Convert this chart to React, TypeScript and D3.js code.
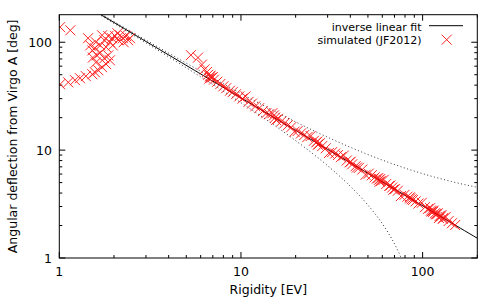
import React from 'react';
import * as d3 from 'd3';

// low-rigidity cluster (simulated, JF2012)
const clusterRigidity = [1.01, 1.15, 1.01, 1.12, 1.22, 1.3, 1.4, 1.52, 1.57, 1.64, 1.72, 1.81, 1.9, 1.86, 1.77, 1.59, 1.53, 1.68, 1.57, 1.48, 1.44, 1.59, 1.68, 1.77, 1.86, 1.95, 1.81, 1.9, 2.03, 2.11, 2.16, 2.24, 2.33, 2.45, 2.39, 2.09, 1.97, 1.72, 1.52, 1.61, 2.26];
const clusterDeflection = [138, 129, 40.8, 42.5, 44.5, 46.4, 48.5, 50.5, 52.7, 55, 58.7, 62.7, 68, 75.6, 71, 65, 72, 80, 88, 93.5, 109, 100, 93.5, 104.5, 114, 109, 90, 100, 114, 104.5, 116, 109, 114, 109, 104.5, 121, 93.5, 116, 84, 75.6, 100];

// high-rigidity band (simulated, JF2012)
const bandRigidity = [5.3, 5.8, 6.1, 6.3, 6.5, 6.6, 6.75, 6.9, 7.1, 7.4, 7.7, 8.0, 8.3, 8.7, 9.0, 9.4, 9.8, 10.2, 10.6, 11.0, 11.5, 12.0, 12.6, 13.2, 13.8, 14.3, 14.9, 15.4, 16.0, 16.7, 17.4, 18.1, 18.9, 19.7, 20.5, 21.4, 22.3, 23.2, 24.2, 25.2, 26.0, 26.8, 28.0, 29.3, 30.5, 31.8, 33.0, 34.2, 35.5, 36.8, 38.2, 39.6, 41.0, 42.8, 44.6, 46.5, 48.5, 50.5, 52.5, 54.5, 56.0, 57.5, 59.0, 61.0, 63.0, 65.5, 68.0, 70.5, 73.0, 76.0, 79.5, 82.5, 85.5, 88.5, 91.5, 95.0, 99.0, 103, 107, 111, 114, 117, 120, 123, 126, 130, 134, 139, 145, 151,
  6.7, 6.8, 7.0, 15.2, 15.6, 26.3, 26.5, 27.2, 40.2, 43.5, 57, 58, 58.5, 66.5, 69, 85, 87, 110, 112, 115, 118, 121, 124, 127, 129];
const bandDeflection = [76, 72, 62, 56, 53, 50, 48, 47, 45, 43, 41, 39, 37.5, 35.5, 34.5, 33, 31.5, 30, 31.5, 28, 27, 25.5, 24.5, 23, 22, 21.5, 22, 20, 19.5, 18.5, 17.8, 17, 16.3, 14.8, 15, 14.3, 13.8, 13.2, 13.5, 12.2, 11.8, 11.4, 10.9, 10.4, 9.4, 9.6, 9.3, 9.0, 8.6, 8.9, 8.0, 7.7, 7.4, 7.1, 6.85, 6.6, 5.9, 6.05, 5.85, 5.6, 5.45, 5.3, 5.15, 5.3, 4.85, 4.65, 4.5, 4.35, 4.2, 3.75, 3.85, 3.7, 3.57, 3.45, 3.35, 3.2, 3.25, 2.96, 2.85, 2.75, 2.67, 2.6, 2.54, 2.35, 2.42, 2.35, 2.4, 2.2, 2.1, 2.02,
  46, 49, 47.5, 21, 19, 12, 11.2, 11.6, 7.8, 6.9, 5.5, 5.1, 5.4, 4.7, 4.3, 3.65, 3.5, 2.9, 2.7, 2.75, 2.55, 2.6, 2.45, 2.5, 2.3];

const fitA = 305; // inverse linear fit: a / R
const bandC = 3; // dotted band: a / R +- c

const xTicks = [1, 10, 100];
const yTicks = [1, 10, 100];

const W = 498;
const H = 299;
const left = 59.3, right = 477.3, top = 14.7, bottom = 258;

const App = () => {
  const x = d3.scaleLog().domain([1, 200]).range([left, right]);
  const y = d3.scaleLog().domain([1, 180]).range([bottom, top]);

  const xMinor = d3.range(0, 3).flatMap((e) => d3.range(2, 10).map((m) => m * 10 ** e)).filter((v) => v <= 200);
  const yMinor = d3.range(0, 3).flatMap((e) => d3.range(2, 10).map((m) => m * 10 ** e)).filter((v) => v <= 180);

  const rs = d3.range(0, 241).map((i) => 10 ** (i / 100 * 2.4));
  const curve = (f: (r: number) => number) =>
    d3.line<number>()
      .defined((r) => f(r) > 0.5)
      .x((r) => x(r))
      .y((r) => y(Math.max(f(r), 0.5)))(rs) || '';

  const fitPath = curve((r) => fitA / r);
  const upperPath = curve((r) => fitA / r + bandC);
  const lowerPath = curve((r) => fitA / r - bandC);

  const points = [
    ...clusterRigidity.map((r, i) => [r, clusterDeflection[i]]),
    ...bandRigidity.map((r, i) => [r, bandDeflection[i]]),
  ];

  const cross = (cx: number, cy: number, s = 5) =>
    `M${cx - s},${cy - s}L${cx + s},${cy + s}M${cx - s},${cy + s}L${cx + s},${cy - s}`;

  const font = '"DejaVu Sans", sans-serif';

  return (
    <div style={{ position: 'fixed', left: 0, top: 0 }}>
      <svg width={W} height={H} style={{ display: 'block', background: '#fff' }}>
        <defs>
          <clipPath id="plot">
            <rect x={left} y={top} width={right - left} height={bottom - top} />
          </clipPath>
        </defs>

        {/* ticks, inward on all sides */}
        <g stroke="#000" strokeWidth={1}>
          {xTicks.map((t) => (
            <g key={'xt' + t}>
              <line x1={x(t)} x2={x(t)} y1={bottom} y2={bottom - 6} />
              <line x1={x(t)} x2={x(t)} y1={top} y2={top + 6} />
            </g>
          ))}
          {xMinor.map((t) => (
            <g key={'xm' + t}>
              <line x1={x(t)} x2={x(t)} y1={bottom} y2={bottom - 3} />
              <line x1={x(t)} x2={x(t)} y1={top} y2={top + 3} />
            </g>
          ))}
          {yTicks.map((t) => (
            <g key={'yt' + t}>
              <line x1={left} x2={left + 6} y1={y(t)} y2={y(t)} />
              <line x1={right} x2={right - 6} y1={y(t)} y2={y(t)} />
            </g>
          ))}
          {yMinor.map((t) => (
            <g key={'ym' + t}>
              <line x1={left} x2={left + 3} y1={y(t)} y2={y(t)} />
              <line x1={right} x2={right - 3} y1={y(t)} y2={y(t)} />
            </g>
          ))}
        </g>

        <g clipPath="url(#plot)" fill="none">
          <path d={upperPath} stroke="#333" strokeWidth={1} strokeDasharray="1 2.5" />
          <path d={lowerPath} stroke="#333" strokeWidth={1} strokeDasharray="1 2.5" />
          <path d={fitPath} stroke="#000" strokeWidth={1} />
          <g stroke="#ff0000" strokeWidth={1} opacity={0.85}>
            {points.map(([r, d], i) => (
              <path key={i} d={cross(x(r), y(d))} />
            ))}
          </g>
        </g>

        <rect x={left} y={top} width={right - left} height={bottom - top} fill="none" stroke="#000" strokeWidth={1} />

        <g fontFamily={font} fontSize={12.5} fill="#000">
          {xTicks.map((t) => (
            <text key={'xl' + t} x={x(t)} y={275.5} textAnchor="middle">{t}</text>
          ))}
          {yTicks.map((t) => (
            <text key={'yl' + t} x={52} y={y(t) + 4.5} textAnchor="end">{t}</text>
          ))}
          <text x={(left + right) / 2} y={294} textAnchor="middle">Rigidity [EV]</text>
          <text transform={`translate(16.5,${(top + bottom) / 2}) rotate(-90)`} textAnchor="middle">
            Angular deflection from Virgo A [deg]
          </text>
        </g>

        {/* legend */}
        <g fontFamily={font} fontSize={11} fill="#000">
          <text x={421.5} y={30.5} textAnchor="end">inverse linear fit</text>
          <text x={421.5} y={44} textAnchor="end">simulated (JF2012)</text>
          <line x1={429} x2={463} y1={25.7} y2={25.7} stroke="#000" strokeWidth={1} />
          <path d={cross(446.7, 39.7)} stroke="#ff0000" strokeWidth={1} opacity={0.85} />
        </g>
      </svg>
    </div>
  );
};

export default App;
